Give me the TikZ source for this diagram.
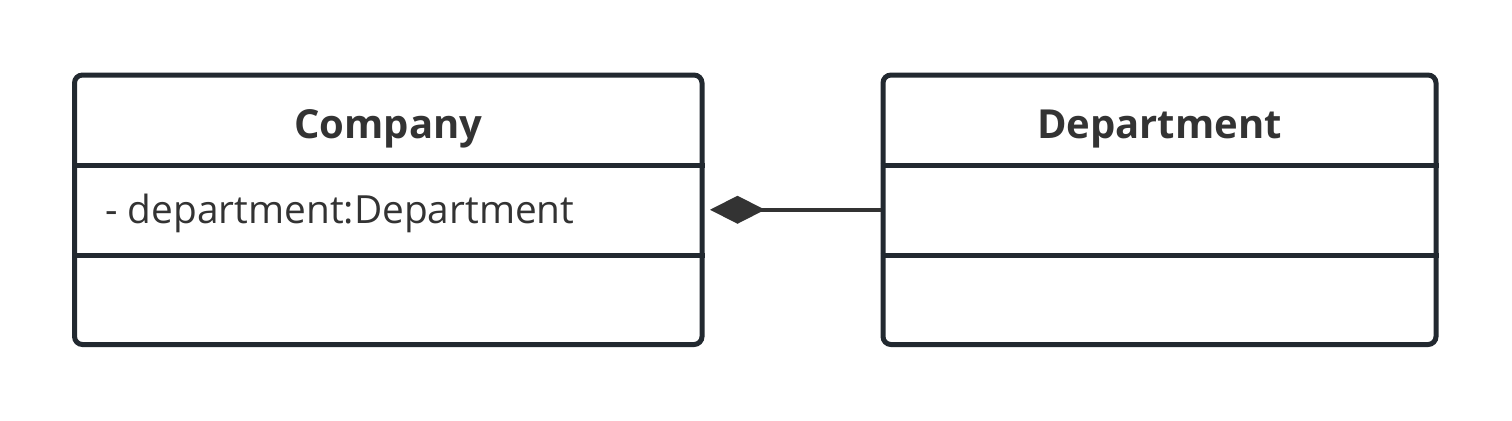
\documentclass[tikz,border=0pt]{standalone}
\usepackage{fontspec}
\setmainfont{Open Sans}
\usetikzlibrary{arrows.meta,positioning}
\definecolor{umlline}{RGB}{34,41,48}
\definecolor{umltext}{RGB}{51,51,51}

\begin{document}
\begin{tikzpicture}[x=0.5pt,y=-0.5pt,
        classbox/.style={rectangle,rounded corners=4pt,draw=umlline,line width=2.5pt,
          minimum height=134.75pt,inner sep=0pt},
        divider/.style={draw=umlline,line width=2.5pt},
        title/.style={anchor=base,text=umltext,font=\bfseries\fontsize{20}{24}\selectfont,inner sep=0pt},
        member/.style={anchor=base west,text=umltext,font=\fontsize{19.4}{23}\selectfont,inner sep=0pt},
        compose/.style={{Diamond[length=27.5pt,width=14pt]}-,draw=umltext,fill=umltext,line width=2pt,shorten <=2.75pt}]
        \useasboundingbox (0,0) rectangle (1512,420);
        % class boxes
        \node[classbox,minimum width=313.75pt] (company) at (388.25,209.75) {};
        \node[classbox,minimum width=276.5pt] (department) at (1159.5,209.75) {};
        % compartments
        \draw[divider] ([yshift=-46.25pt]company.north west) -- ([yshift=-46.25pt]company.north east);
        \draw[divider] ([yshift=-91.25pt]company.north west) -- ([yshift=-91.25pt]company.north east);
        \draw[divider] ([yshift=-46.25pt]department.north west) -- ([yshift=-46.25pt]department.north east);
        \draw[divider] ([yshift=-91.25pt]department.north west) -- ([yshift=-91.25pt]department.north east);
        % labels
        \node[title] (companyname) at ([yshift=-32.75pt]company.north) {Company};
        \node[title] (departmentname) at ([yshift=-32.75pt]department.north) {Department};
        \node[member] (deptattr) at ([xshift=16.5pt,yshift=-75.25pt]company.north west) {- department:Department};
        % composition
        \draw[compose] (company.east) -- (department.west);
      \end{tikzpicture}
\end{document}
